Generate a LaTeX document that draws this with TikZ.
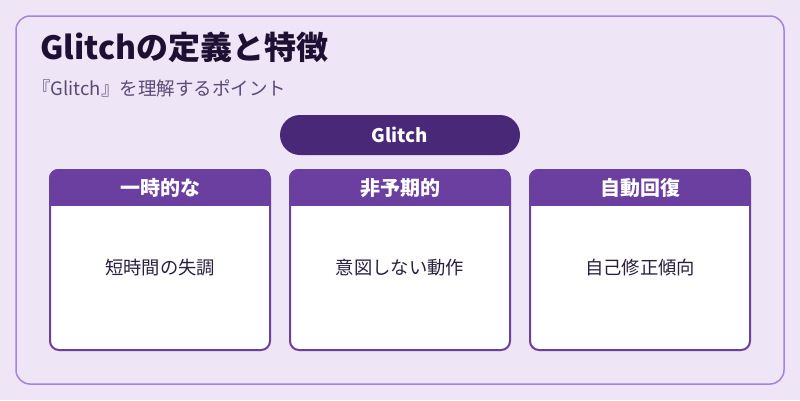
\documentclass[tikz,border=0pt]{standalone}
\usepackage{fontspec}
\setmainfont{Noto Sans CJK JP}
\definecolor{bgc}{HTML}{EEE6F6}
\definecolor{outerc}{HTML}{A585D5}
\definecolor{headc}{HTML}{6B3FA0}
\definecolor{pillc}{HTML}{4A2878}
\definecolor{titlec}{HTML}{1E1033}
\definecolor{subc}{HTML}{5A4A78}
\definecolor{bodyc}{HTML}{2A1F3D}
\begin{document}
\begin{tikzpicture}[x=1pt,y=-1pt,
  cardbody/.style={draw=headc,line width=2pt,fill=white,rounded corners=9pt},
  headtext/.style={text=white,font=\fontsize{20}{24}\selectfont\bfseries,anchor=center},
  bodytext/.style={text=bodyc,font=\fontsize{18.3}{22}\selectfont,anchor=center}]
\useasboundingbox (0,0) rectangle (800,400);
\fill[bgc] (0,0) rectangle (800,400);
\draw[outerc,line width=1.5pt,rounded corners=14pt] (16,16) rectangle (784,384);
\node[anchor=base west,text=titlec,font=\fontsize{32}{36}\selectfont\bfseries,inner sep=0] (title) at (40,59) {Glitchの定義と特徴};
\node[anchor=base west,text=subc,font=\fontsize{18.5}{22}\selectfont,inner sep=0] (sub) at (32,95) {『Glitch』を理解するポイント};
\fill[pillc,rounded corners=20pt] (280,115) rectangle (520,155);
\node[text=white,font=\fontsize{18.7}{22}\selectfont\bfseries] (glitch) at (400,135) {Glitch};
\foreach \x/\h/\b [count=\i] in {50/一時的な/短時間の失調,290/非予期的/意図しない動作,530/自動回復/自己修正傾向}{
  \draw[cardbody] (\x,170) rectangle (\x+220,350);
  \begin{scope}
    \clip[rounded corners=9pt] (\x-1,169) rectangle (\x+221,351);
    \fill[headc] (\x-1,169) rectangle (\x+221,206);
  \end{scope}
  \node[headtext] (h\i) at (\x+110,188) {\h};
  \node[bodytext] (b\i) at (\x+110,268) {\b};
}
\end{tikzpicture}
\end{document}
